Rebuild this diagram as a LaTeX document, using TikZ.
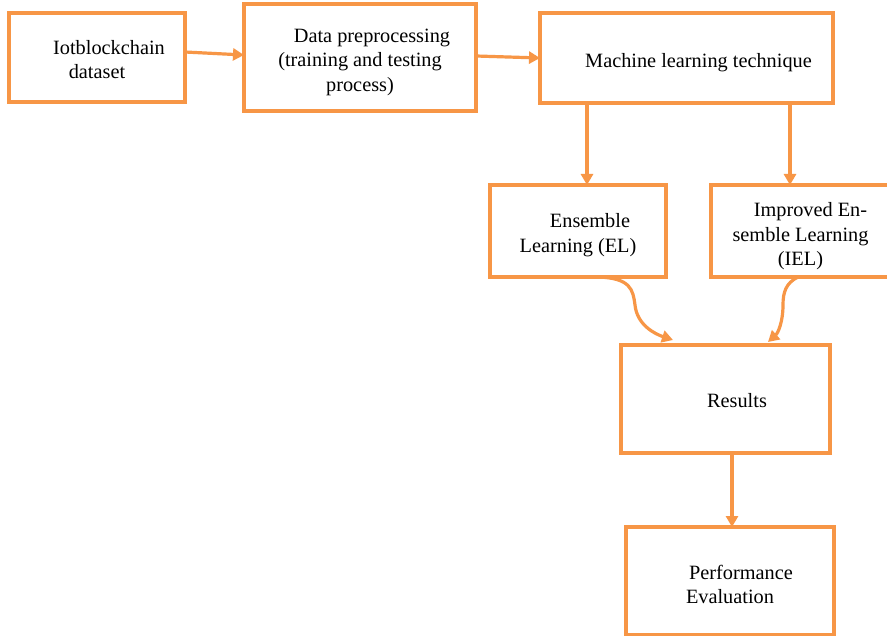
\documentclass[tikz,border=0pt]{standalone}
\usepackage{fontspec}
\setmainfont{Liberation Serif}
\usetikzlibrary{arrows.meta}
\definecolor{orng}{HTML}{F79646}
\tikzset{
  box/.style={draw=orng, line width=3.5pt, rectangle, inner sep=0pt, outer sep=0pt},
  txt/.style={align=center, font=\fontsize{20.3pt}{24.5pt}\selectfont, inner sep=0pt},
  arr/.style={draw=orng, line width=3.2pt, -{Triangle[length=11pt,width=12pt]}},
}
\begin{document}
\begin{tikzpicture}[x=1pt,y=-1pt]
\useasboundingbox (0,0) rectangle (887,636);
\clip (0,0) rectangle (887,636);
\fill[white] (0,0) rectangle (887,636);
% boxes
\node[box, minimum width=176pt, minimum height=89pt] (b1) at (97,57.5) {};
\node[box, minimum width=232pt, minimum height=107pt] (b2) at (360,57.5) {};
\node[box, minimum width=293pt, minimum height=90pt] (b3) at (686.5,58) {};
\node[box, minimum width=176pt, minimum height=92pt] (b4) at (578,231) {};
\node[box, minimum width=181pt, minimum height=92pt] (b5) at (801.5,231) {};
\node[box, minimum width=209pt, minimum height=108pt] (b6) at (725.5,399) {};
\node[box, minimum width=208pt, minimum height=108pt] (b7) at (730,581) {};
% texts
\node[txt] (t1) at (97,59.5) {\hspace*{24pt}Iotblockchain\\dataset};
\node[txt] (t2) at (360,62) {\hspace*{24pt}Data preprocessing\\(training and testing\\process)};
\node[txt] (t3) at (698.5,63) {Machine learning technique};
\node[txt] (t4) at (578,235) {\hspace*{24pt}Ensemble\\Learning (EL)};
\node[txt] (t5) at (800.5,236.5) {\hspace*{20pt}Improved En-\\semble Learning\\(IEL)};
\node[txt] (t6) at (737,401) {Results};
\node[txt] (t7) at (730,584.5) {\hspace*{22pt}Performance\\Evaluation};
% connectors
\draw[arr] ([yshift=5.5pt]b1.east) -- ([yshift=2.5pt]b2.west);
\draw[arr] ([yshift=1.5pt]b2.east) -- (b3.west);
\draw[arr] ([xshift=-99.5pt]b3.south) coordinate (s3) -- (s3 |- b4.north);
\draw[arr] ([xshift=103.5pt]b3.south) coordinate (s4) -- (s4 |- b5.north);
\coordinate (e5) at ([xshift=-52.5pt,yshift=5pt]b6.north);
\coordinate (e6) at ([xshift=42.5pt,yshift=3pt]b6.north);
\draw[arr] ([xshift=20pt]b4.south) .. controls +(33,1) and +(-2,-15) .. (635,305) .. controls +(2,20) and +(-18,-6) .. (e5);
\draw[arr] ([xshift=-3.5pt]b5.south) .. controls +(-12,6) and +(0,-13) .. (783,305) .. controls +(0,17) and +(10,-9) .. (e6);
\draw[arr] ([xshift=6.5pt]b6.south) coordinate (s6) -- (s6 |- b7.north);
\end{tikzpicture}
\end{document}
